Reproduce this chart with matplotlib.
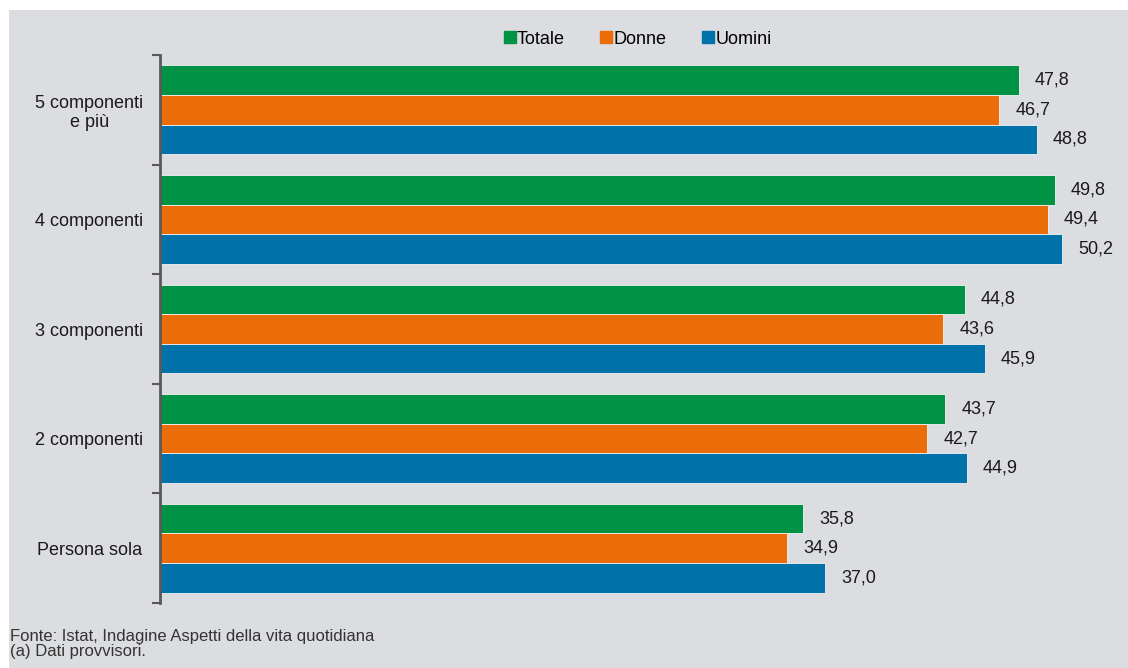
import matplotlib
matplotlib.use("Agg")
import matplotlib.pyplot as plt
from matplotlib.patches import Rectangle
from matplotlib.lines import Line2D
import numpy as np

categories = ["Persona sola", "2 componenti", "3 componenti", "4 componenti", "5 componenti\ne più"]
series_names = ["Totale", "Donne", "Uomini"]
totale = [35.8, 43.7, 44.8, 49.8, 47.8]
donne = [34.9, 42.7, 43.6, 49.4, 46.7]
uomini = [37.0, 44.9, 45.9, 50.2, 48.8]
colors = ["#009346", "#ea6d0a", "#0071a9"]
notes = "Fonte: Istat, Indagine Aspetti della vita quotidiana\n(a) Dati provvisori."

plt.rcParams['font.family'] = ['Liberation Sans', 'DejaVu Sans']

W, H = 1128, 668
fig = plt.figure(figsize=(W / 100, H / 100), dpi=100)
fig.patch.set_facecolor("white")
bg = "#dcdde0"
fig.patches.append(Rectangle((9 / W, 0), 1 - 9 / W, 1 - 10 / H, transform=fig.transFigure,
                             facecolor=bg, edgecolor="none", zorder=-10))

ax = fig.add_axes([160 / W, 1 - 603 / H, (1120 - 160) / W, (603 - 55) / H])
ax.set_facecolor(bg)

n = len(categories)
y = np.arange(n)
bh = 0.27
data = [totale, donne, uomini]
offsets = [bh, 0, -bh]
for vals, c, off, name in zip(data, colors, offsets, series_names):
    bars = ax.barh(y + off, vals, height=bh, color=c, edgecolor="#f2f2f2", linewidth=0.6, label=name)
    for b, v in zip(bars, vals):
        ax.annotate(f"{v:.1f}".replace(".", ","), (b.get_width(), b.get_y() + b.get_height() / 2),
                    xytext=(16, 0), textcoords="offset pixels",
                    va="center", ha="left", fontsize=13, color="#1a1a1a")

ax.set_xlim(0, (1120 - 160) / 17.97)
ax.set_ylim(-0.5, n - 0.5)
ax.set_yticks(y)
ax.set_yticklabels(categories, fontsize=13, color="#1a1a1a", ha="center")
ax.tick_params(axis="y", length=0, pad=51)
ax.set_yticks(np.arange(-0.5, n, 1.0), minor=True)
ax.tick_params(axis="y", which="minor", length=6, width=1.5, color="#595959", direction="out")
ax.set_xticks([])
for s in ["top", "right", "bottom"]:
    ax.spines[s].set_visible(False)
ax.spines["left"].set_color("#595959")
ax.spines["left"].set_linewidth(2)

handles = [Line2D([], [], marker="s", linestyle="none", markersize=8, markerfacecolor=c,
                  markeredgecolor=c) for c in colors]
fig.legend(handles, series_names, loc="center", bbox_to_anchor=(637 / W, 1 - 39 / H), ncol=3,
           frameon=False, fontsize=13, handletextpad=0.0, columnspacing=1.9, handlelength=0.8)

fig.text(10 / W, 1 - 644 / H, notes, fontsize=12, va="center", ha="left", color="#333333",
         family=['Liberation Sans Narrow', 'Liberation Sans', 'DejaVu Sans'], linespacing=1.0)

fig.savefig("out.png", dpi=100, facecolor=fig.get_facecolor())
